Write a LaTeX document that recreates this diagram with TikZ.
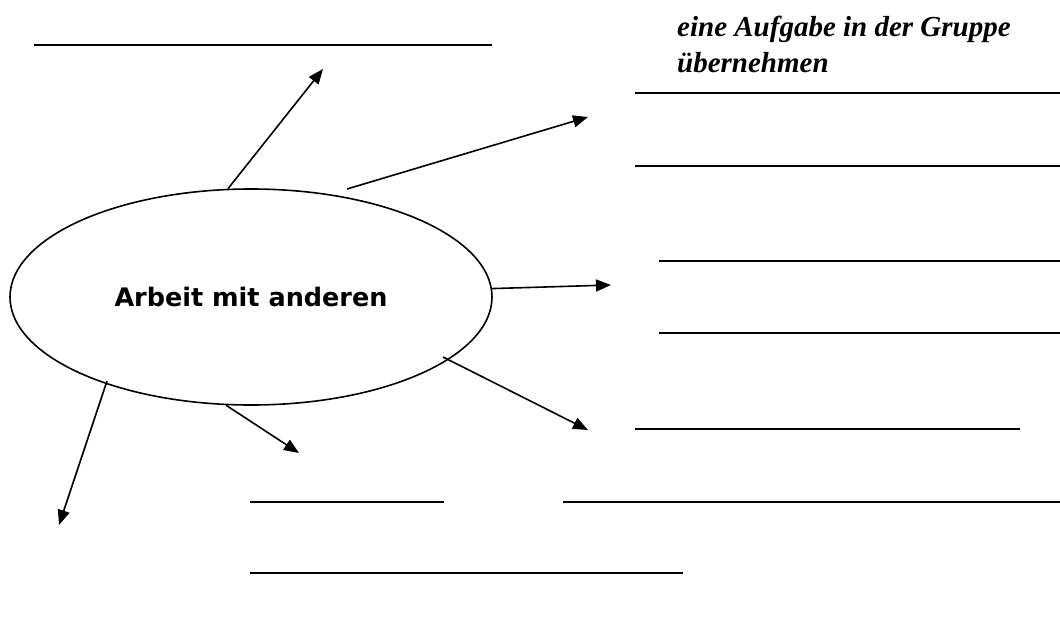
\documentclass[tikz,border=0pt]{standalone}
\usepackage{fontspec}
\setmainfont{DejaVu Sans}
\newfontfamily\scriptfnt{Liberation Serif}
\usetikzlibrary{shapes.geometric,arrows.meta}
\begin{document}
\begin{tikzpicture}[x=1pt,y=-1pt,
  blank/.style={line width=2pt},
  conn/.style={line width=1.6pt,-{Triangle[length=15pt,width=12pt]}},
  bubble/.style={ellipse,draw,line width=1.6pt,minimum width=482pt,minimum height=216pt,inner sep=0pt,font=\fontsize{25.5}{30}\selectfont\bfseries}]
\useasboundingbox (0,0) rectangle (1060,618);
\fill[white] (0,0) rectangle (1060,618);
% centre
\node[bubble] (ell) at (251,297) {Arbeit mit anderen};
% writing lines
\draw[blank] (34,45) -- (492,45);
\draw[blank] (635,93) -- (1060,93);
\draw[blank] (635,166) -- (1060,166);
\draw[blank] (659,261) -- (1060,261);
\draw[blank] (659,333) -- (1060,333);
\draw[blank] (635,429) -- (1020,429);
\draw[blank] (250,502) -- (444,502);
\draw[blank] (563,502) -- (1060,502);
\draw[blank] (250,573) -- (683,573);
% label
\node[anchor=base west,inner sep=0pt,font=\scriptfnt\fontsize{29}{36}\selectfont\bfseries\itshape,align=left] (lab) at (677,73) {eine Aufgabe in der Gruppe\\übernehmen};
% arrow ends
\coordinate (bS) at (347,189);
\coordinate (dS) at (443,357);
\coordinate (fS) at (107,381);
\coordinate (aT) at (323,69);
\coordinate (bT) at (588,117);
\coordinate (cT) at (611,285);
\coordinate (dT) at (588,430);
\coordinate (eT) at (299,453);
\coordinate (fT) at (59,525);
\draw[conn] (ell.102.9) -- (aT);
\draw[conn] (bS) -- (bT);
\draw[conn] (ell.2.9) -- (cT);
\draw[conn] (dS) -- (dT);
\draw[conn] (ell.257.5) -- (eT);
\draw[conn] (fS) -- (fT);
\end{tikzpicture}
\end{document}
